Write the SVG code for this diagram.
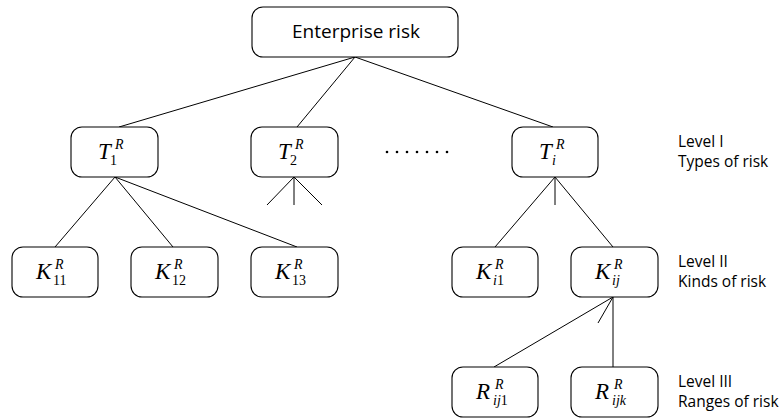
<svg xmlns="http://www.w3.org/2000/svg" width="782" height="420" viewBox="0 0 782 420">
  <style>
    .box { fill: #ffffff; stroke: #000000; stroke-width: 1.1; }
    .edge { stroke: #000000; stroke-width: 1; fill: none; }
    .label { font-family: "Open Sans", "Noto Sans", sans-serif; fill: #000000; }
    .m { font-family: "Liberation Serif", "DejaVu Serif", serif; fill: #000000; }
    .it { font-style: italic; }
    .big { font-size: 23px; }
    .sc { font-size: 14px; }
  </style>
  <rect width="782" height="420" fill="#ffffff"/>

  <!-- connectors -->
  <g id="connectors">
    <line class="edge" x1="355" y1="57" x2="119" y2="127"/>
    <line class="edge" x1="355" y1="57" x2="297" y2="127"/>
    <line class="edge" x1="355" y1="57" x2="553" y2="127"/>
    <line class="edge" x1="115" y1="177" x2="55" y2="247"/>
    <line class="edge" x1="115" y1="177" x2="173" y2="247"/>
    <line class="edge" x1="115" y1="177" x2="297" y2="247"/>
    <line class="edge" x1="294" y1="177" x2="267" y2="205"/>
    <line class="edge" x1="294" y1="177" x2="294" y2="205"/>
    <line class="edge" x1="294" y1="177" x2="322" y2="205"/>
    <line class="edge" x1="555" y1="177" x2="495" y2="247"/>
    <line class="edge" x1="555" y1="177" x2="555" y2="205"/>
    <line class="edge" x1="555" y1="177" x2="613" y2="247"/>
    <line class="edge" x1="613" y1="297" x2="494" y2="367"/>
    <line class="edge" x1="613" y1="297" x2="598" y2="323"/>
    <line class="edge" x1="613" y1="297" x2="613" y2="367"/>
  </g>

  <!-- root -->
  <g id="enterprise">
    <rect class="box" x="252" y="7" width="206" height="50" rx="11"/>
    <text class="label" x="356" y="38" font-size="19" text-anchor="middle">Enterprise risk</text>
  </g>

  <!-- level I -->
  <g id="T1">
    <rect class="box" x="71" y="127" width="87" height="50" rx="11"/>
    <text class="m"><tspan class="it big" x="98" y="159">T</tspan><tspan class="it sc" x="115" y="149">R</tspan><tspan class="sc" x="110" y="165">1</tspan></text>
  </g>
  <g id="T2">
    <rect class="box" x="251" y="127" width="87" height="50" rx="11"/>
    <text class="m"><tspan class="it big" x="278" y="159">T</tspan><tspan class="it sc" x="295" y="149">R</tspan><tspan class="sc" x="290" y="165">2</tspan></text>
  </g>
  <g id="ellipsis">
    <circle cx="387" cy="152" r="1.3"/>
    <circle cx="397" cy="152" r="1.3"/>
    <circle cx="407" cy="152" r="1.3"/>
    <circle cx="417" cy="152" r="1.3"/>
    <circle cx="427" cy="152" r="1.3"/>
    <circle cx="437" cy="152" r="1.3"/>
    <circle cx="447" cy="152" r="1.3"/>
  </g>
  <g id="Ti">
    <rect class="box" x="512" y="127" width="86" height="50" rx="11"/>
    <text class="m"><tspan class="it big" x="539" y="159">T</tspan><tspan class="it sc" x="556" y="149">R</tspan><tspan class="it sc" x="552" y="165">i</tspan></text>
  </g>

  <!-- level II -->
  <g id="K11">
    <rect class="box" x="12" y="247" width="86" height="50" rx="11"/>
    <text class="m"><tspan class="it big" x="36" y="279">K</tspan><tspan class="it sc" x="55" y="269">R</tspan><tspan class="sc" x="53" y="285">11</tspan></text>
  </g>
  <g id="K12">
    <rect class="box" x="131" y="247" width="87" height="50" rx="11"/>
    <text class="m"><tspan class="it big" x="155" y="279">K</tspan><tspan class="it sc" x="174" y="269">R</tspan><tspan class="sc" x="172" y="285">12</tspan></text>
  </g>
  <g id="K13">
    <rect class="box" x="251" y="247" width="87" height="50" rx="11"/>
    <text class="m"><tspan class="it big" x="275" y="279">K</tspan><tspan class="it sc" x="294" y="269">R</tspan><tspan class="sc" x="292" y="285">13</tspan></text>
  </g>
  <g id="Ki1">
    <rect class="box" x="452" y="247" width="86" height="50" rx="11"/>
    <text class="m"><tspan class="it big" x="476" y="279">K</tspan><tspan class="it sc" x="495" y="269">R</tspan><tspan class="it sc" x="493" y="285">i</tspan><tspan class="sc">1</tspan></text>
  </g>
  <g id="Kij">
    <rect class="box" x="571" y="247" width="87" height="50" rx="11"/>
    <text class="m"><tspan class="it big" x="595" y="279">K</tspan><tspan class="it sc" x="614" y="269">R</tspan><tspan class="it sc" x="612" y="285">ij</tspan></text>
  </g>

  <!-- level III -->
  <g id="Rij1">
    <rect class="box" x="452" y="367" width="86" height="50" rx="11"/>
    <text class="m"><tspan class="it big" x="476" y="399">R</tspan><tspan class="it sc" x="495" y="389">R</tspan><tspan class="it sc" x="493" y="405">ij</tspan><tspan class="sc">1</tspan></text>
  </g>
  <g id="Rijk">
    <rect class="box" x="571" y="367" width="87" height="50" rx="11"/>
    <text class="m"><tspan class="it big" x="595" y="399">R</tspan><tspan class="it sc" x="614" y="389">R</tspan><tspan class="it sc" x="612" y="405">ijk</tspan></text>
  </g>

  <!-- level captions -->
  <g id="captions">
    <text class="label" font-size="15.5" x="678" y="147">Level I</text>
    <text class="label" font-size="15.5" x="678" y="167">Types of risk</text>
    <text class="label" font-size="15.5" x="678" y="267">Level II</text>
    <text class="label" font-size="15.5" x="678" y="287">Kinds of risk</text>
    <text class="label" font-size="15.5" x="678" y="387">Level III</text>
    <text class="label" font-size="15.5" x="678" y="407">Ranges of risk</text>
  </g>
</svg>
